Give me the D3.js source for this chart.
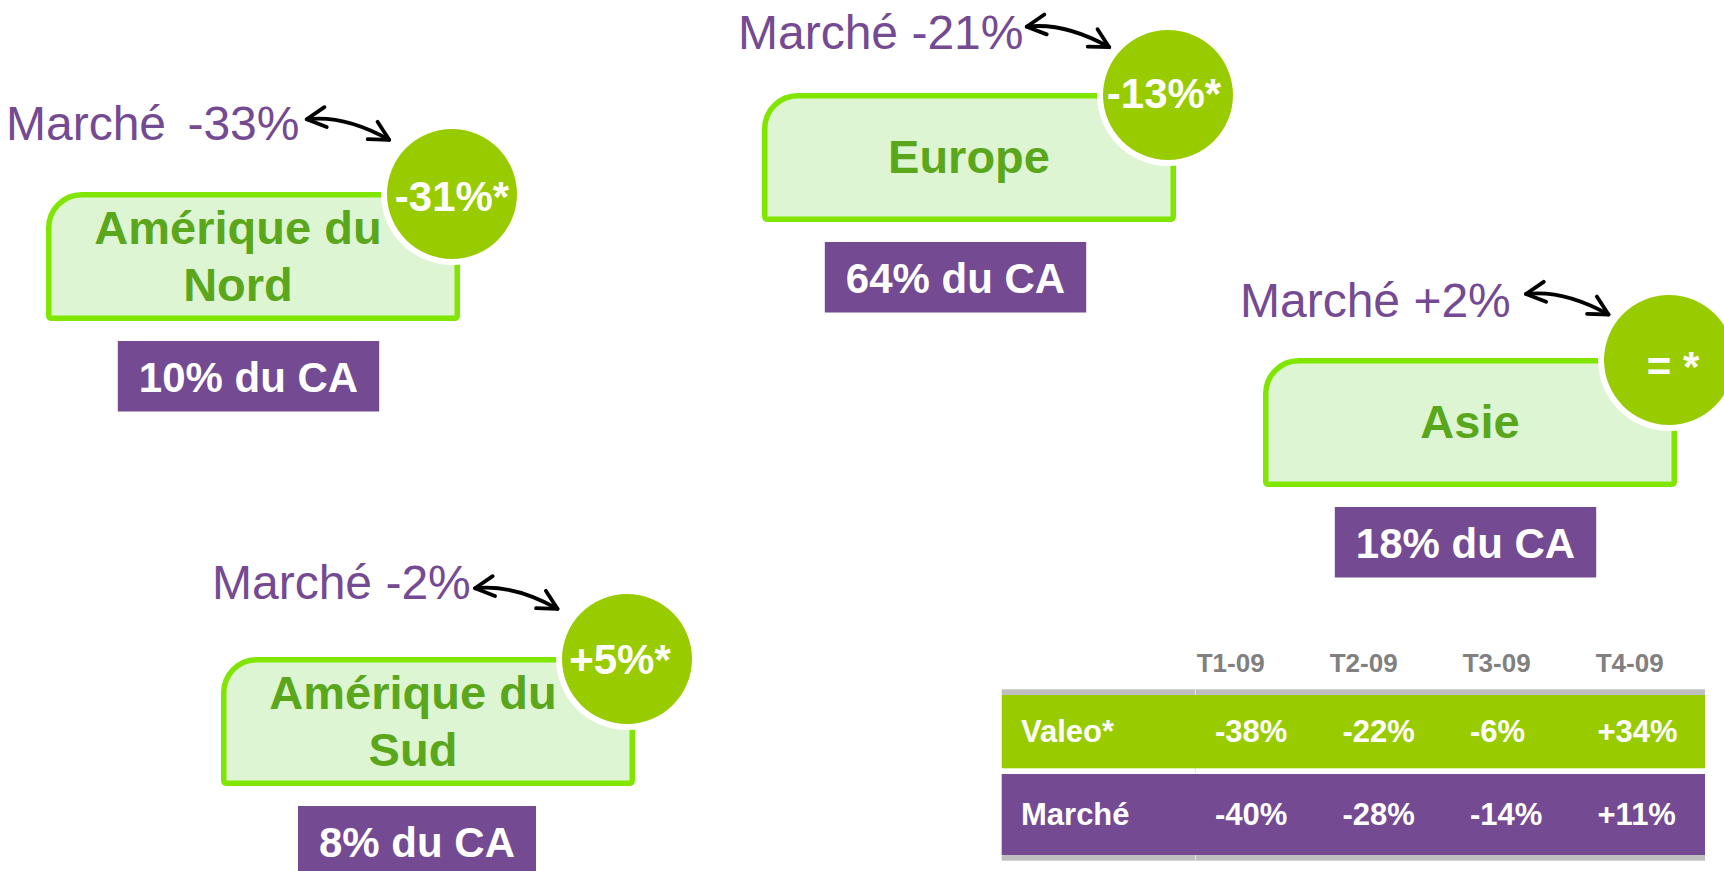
<!DOCTYPE html>
<html>
<head>
<meta charset="utf-8">
<script src="https://cdn.jsdelivr.net/npm/d3@7"></script>
<style>
body{margin:0;background:#fff;}
svg{display:block;font-family:"Liberation Sans",Arial,sans-serif;}
</style>
</head>
<body>
<svg id="chart"></svg>
<script>
// ---- data : regions
var regions      = ["Amérique du Nord", "Europe", "Asie", "Amérique du Sud"];
var labelLines   = [["Amérique du", "Nord"], ["Europe"], ["Asie"], ["Amérique du", "Sud"]];
var valeoGrowth  = [-31, -13, 0, 5];
var marketGrowth = [-33, -21, 2, -2];
var shareCA      = [10, 64, 18, 8];

// ---- data : quarterly table
var quarters  = ["T1-09", "T2-09", "T3-09", "T4-09"];
var rowLabels = ["Valeo*", "Marché"];
var valeoQ    = [-38, -22, -6, 34];
var marketQ   = [-40, -28, -14, 11];

// ---- layout (where each region block sits on the slide)
var layout = [
  {bx:46,   by:192, tx:6,    ty:140, gap:8, ax:306.7,  ay:119.3, cax:248.5,  ldx:-15, bdx:0,  bdy:17},
  {bx:762,  by:93,  tx:738,  ty:49,  gap:0, ax:1026.7, ay:26.7,  cax:955.5,  ldx:0,   bdx:-4, bdy:13},
  {bx:1263, by:358, tx:1240, ty:317, gap:0, ax:1526,   ay:294,   cax:1465.5, ldx:0,   bdx:4,  bdy:21},
  {bx:221,  by:657, tx:212,  ty:599, gap:0, ax:475,    ay:588.3, cax:417,    ldx:-15, bdx:-7, bdy:15}
];
var boxW = 414, boxH = 129, boxStroke = 5.5, rBadge = 65;

var W = 1724, H = 871;
var purple = "#744a93", lime = "#99cc00", boxFill = "#ddf5d3", boxLine = "#80e600",
    labelGreen = "#5aa71b", gray = "#bfbfbf";

var svg = d3.select("#chart").attr("width", W).attr("height", H);

svg.append("defs").append("marker")
    .attr("id", "head")
    .attr("markerUnits", "userSpaceOnUse")
    .attr("viewBox", "-24 -14 28 28")
    .attr("markerWidth", 28).attr("markerHeight", 28)
    .attr("refX", 0).attr("refY", 0)
    .attr("orient", "auto-start-reverse")
  .append("path")
    .attr("d", "M-19,-10 L0,0 L-19,10")
    .attr("fill", "none").attr("stroke", "#000")
    .attr("stroke-width", 3.8).attr("stroke-linecap", "round").attr("stroke-linejoin", "round");

function pct(v){ return (v > 0 ? "+" : "") + v + "%"; }
function badge(v){ return v === 0 ? "= *" : pct(v) + "*"; }

// rectangle with one big rounded corner (top-left)
function boxPath(x, y, w, h, R, c){
  var p = d3.path();
  p.moveTo(x, y + R);
  p.arcTo(x, y, x + R, y, R);
  p.lineTo(x + w - c, y);
  p.quadraticCurveTo(x + w, y, x + w, y + c);
  p.lineTo(x + w, y + h - c);
  p.quadraticCurveTo(x + w, y + h, x + w - c, y + h);
  p.lineTo(x + c, y + h);
  p.quadraticCurveTo(x, y + h, x, y + h - c);
  p.closePath();
  return p.toString();
}

var g = svg.selectAll("g.region").data(d3.range(regions.length)).join("g").attr("class", "region");

g.each(function(i){
  var L = layout[i], sel = d3.select(this);
  var s = boxStroke / 2;

  sel.append("path")
      .attr("d", boxPath(L.bx + s, L.by + s, boxW - boxStroke, boxH - boxStroke, 33, 3))
      .attr("fill", boxFill).attr("stroke", boxLine).attr("stroke-width", boxStroke);

  var lines = labelLines[i], mid = L.by + 80;
  sel.append("text")
      .attr("text-anchor", "middle")
      .attr("font-size", 47).attr("font-weight", "bold").attr("fill", labelGreen)
    .selectAll("tspan").data(lines).join("tspan")
      .attr("x", L.bx + boxW / 2 + L.ldx)
      .attr("y", function(d, k){ return mid + (k - (lines.length - 1) / 2) * 57; })
      .text(function(d){ return d; });

  var cx = L.bx + boxW - 8, cy = L.by + 2;
  sel.append("circle").attr("cx", cx).attr("cy", cy).attr("r", rBadge + 6).attr("fill", "#fff");
  sel.append("circle").attr("cx", cx).attr("cy", cy).attr("r", rBadge).attr("fill", lime);
  sel.append("text")
      .attr("x", cx + L.bdx).attr("y", cy + L.bdy)
      .attr("text-anchor", "middle")
      .attr("font-size", 42).attr("font-weight", "bold").attr("fill", "#fff")
      .style("white-space", "pre")
      .text(badge(valeoGrowth[i]));

  // share of sales
  var caY = L.by + boxH + 20;
  var caText = sel.append("text")
      .attr("x", L.cax).attr("y", caY + 51)
      .attr("text-anchor", "middle")
      .attr("font-size", 42).attr("font-weight", "bold").attr("fill", "#fff")
      .text(shareCA[i] + "% du CA");
  var tw = caText.node().getComputedTextLength() + 42;
  sel.insert("rect", function(){ return caText.node(); })
      .attr("x", L.cax - tw / 2).attr("y", caY)
      .attr("width", tw).attr("height", 70.5)
      .attr("fill", purple);

  // market label + arrow
  var mk = sel.append("text")
      .attr("x", L.tx).attr("y", L.ty)
      .attr("font-size", 48).attr("fill", purple)
      .style("white-space", "pre");
  mk.append("tspan").text("Marché ");
  mk.append("tspan").attr("dx", L.gap).text(pct(marketGrowth[i]));

  var x2 = L.ax + 82.5, y2 = L.ay + 20.5;
  sel.append("path")
      .attr("d", "M" + L.ax + "," + L.ay + " Q" + (L.ax + 38) + "," + (L.ay - 4.5) + " " + x2 + "," + y2)
      .attr("fill", "none").attr("stroke", "#000").attr("stroke-width", 3.8)
      .attr("stroke-linecap", "round")
      .attr("marker-start", "url(#head)").attr("marker-end", "url(#head)");
});

// ---- quarterly table
var tX0 = 1001.7, tX1 = 1705, colX0 = 1195;
var col  = d3.scaleBand().domain(quarters).range([colX0, tX1]);
var head = d3.scalePoint().domain(quarters).range([1196.7, 1595.7]);

var rows = [
  {label: rowLabels[0], values: valeoQ,  color: lime,   y: 695, h: 73.3},
  {label: rowLabels[1], values: marketQ, color: purple, y: 774, h: 81}
];

var tbl = svg.append("g").attr("class", "table");

tbl.selectAll("text.head").data(quarters).join("text")
    .attr("class", "head")
    .attr("x", function(d){ return head(d); }).attr("y", 672.3)
    .attr("font-size", 26).attr("font-weight", "bold").attr("fill", "#808080")
    .text(function(d){ return d; });

tbl.append("rect").attr("x", tX0).attr("y", 689.3).attr("width", tX1 - tX0).attr("height", 5.7).attr("fill", gray);
tbl.append("rect").attr("x", tX0).attr("y", 855).attr("width", tX1 - tX0).attr("height", 5.7).attr("fill", gray);
tbl.append("line")
    .attr("x1", colX0 + 0.5).attr("x2", colX0 + 0.5).attr("y1", 689.3).attr("y2", 860.7)
    .attr("stroke", "#e6e6e6").attr("stroke-width", 1);

var row = tbl.selectAll("g.row").data(rows).join("g").attr("class", "row");
row.append("rect")
    .attr("x", tX0).attr("y", function(d){ return d.y; })
    .attr("width", tX1 - tX0).attr("height", function(d){ return d.h; })
    .attr("fill", function(d){ return d.color; });
row.append("text")
    .attr("x", 1021).attr("y", function(d){ return d.y + d.h / 2 + 10.5; })
    .attr("font-size", 31).attr("font-weight", "bold").attr("fill", "#fff")
    .text(function(d){ return d.label; });
row.each(function(r){
  d3.select(this).selectAll("text.val").data(r.values).join("text")
      .attr("class", "val")
      .attr("x", function(v, k){ return col(quarters[k]) + 20; })
      .attr("y", r.y + r.h / 2 + 10.5)
      .attr("font-size", 31).attr("font-weight", "bold").attr("fill", "#fff")
      .text(pct);
});
</script>
</body>
</html>
